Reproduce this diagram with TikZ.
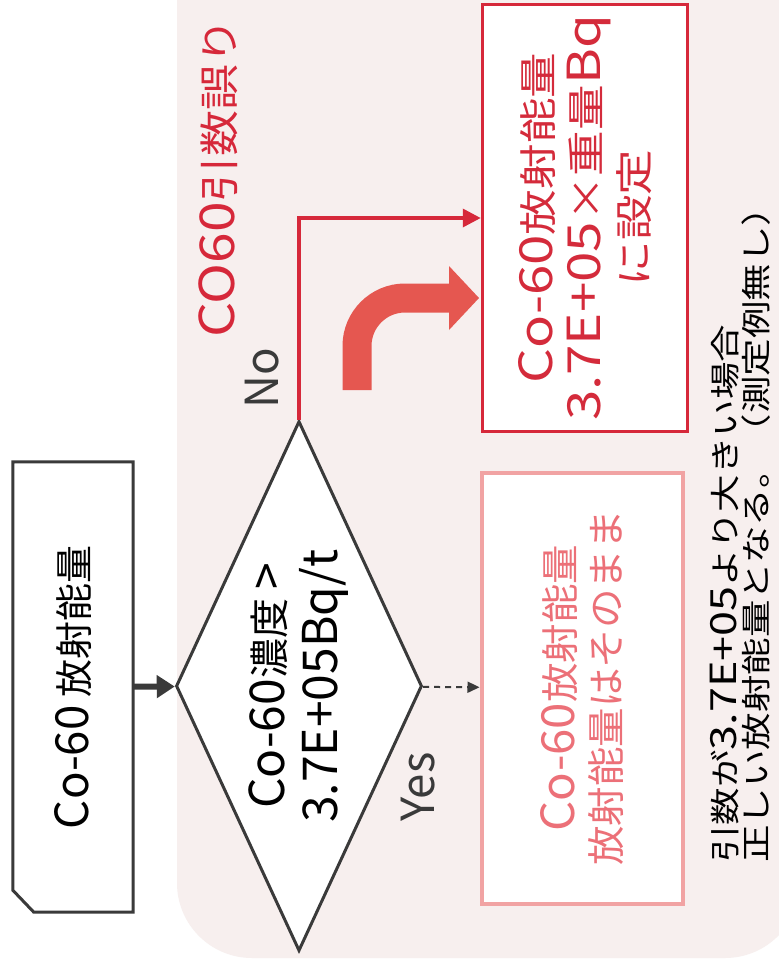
\documentclass[tikz,border=0pt]{standalone}
\usepackage{fontspec}
\setmainfont{Noto Sans CJK JP}
\newfontfamily\la[Scale=1.2]{Noto Sans CJK JP}
\usetikzlibrary{shapes.geometric,arrows.meta}
\definecolor{darkline}{HTML}{3A3A3A}
\definecolor{redc}{HTML}{D6283A}
\definecolor{redtext}{HTML}{D42B3B}
\definecolor{bigred}{HTML}{E55750}
\definecolor{pinkborder}{HTML}{F1A3A3}
\definecolor{pinktext}{HTML}{EC7078}
\definecolor{bgpink}{HTML}{F7EFEE}
\tikzset{
  vtext/.style={rotate=90, inner sep=0pt, align=center},
  boxshape/.style={fill=white, inner sep=0pt},
  darkarrow/.style={draw=darkline, line width=6pt, -{Triangle[length=18pt,width=22pt]}},
  yesarrow/.style={draw=darkline, line width=2pt, dash pattern=on 6pt off 5pt, -{Triangle[length=12pt,width=11pt]}},
  noarrow/.style={draw=redc, line width=3.5pt, -{Triangle[length=18pt,width=18pt]}},
}
\begin{document}
\begin{tikzpicture}[x=1pt,y=-1pt]
\useasboundingbox (0,0) rectangle (779,967);
\fill[white] (0,0) rectangle (779,967);
\fill[bgpink, rounded corners=75pt] (177,-100) -- (177,958) -- (800,958) -- (800,-100) -- cycle;

% source box (bottom-left corner cut)
\node[boxshape, minimum width=120pt, minimum height=450pt] (src) at (73,687) {};
\draw[darkline, line width=3pt, line join=miter] (src.north west) -- (src.north east) -- (src.south east)
  -- ([xshift=21pt]src.south west) -- ([yshift=22pt]src.south west) -- cycle;
\node[vtext, text=black, font=\fontsize{38}{46}\selectfont] (srct) at (src) {{\la Co-60} 放射能量};

% decision
\node[boxshape, diamond, draw=darkline, line width=3pt, minimum width=246pt, minimum height=530pt] (dec) at (299,686) {};
\node[vtext, text=black, font=\fontsize{40}{53}\selectfont] (dect) at (dec) {{\la Co-60}濃度 {\la >}\\{\la 3.7E+05Bq/t}};

% result boxes
\node[boxshape, draw=redc, line width=3.5pt, minimum width=205pt, minimum height=427pt] (set) at (585,218) {};
\node[vtext, xscale=1.2, text=redtext, font=\fontsize{38}{48}\selectfont] (sett) at (set) {{\la Co-60}放射能量\\{\la 3.7E+05}×重量{\la Bq}\\に設定};

\node[boxshape, draw=pinkborder, line width=4pt, minimum width=201pt, minimum height=431pt] (keep) at (582,688) {};
\node[vtext, xscale=1.04, text=pinktext, font=\fontsize{38}{46}\selectfont] (keept) at (keep) {{\la Co-60}放射能量\\放射能量はそのまま};

% labels
\node[vtext, anchor=west, xscale=1.15, text=redc, font=\fontsize{40}{48}\selectfont] (err) at (218,338) {{\la CO60}引数誤り};
\node[vtext, text=darkline, font=\fontsize{38}{46}\selectfont] (no) at (262,378) {{\la No}};
\node[vtext, text=darkline, font=\fontsize{38}{46}\selectfont] (yes) at (418,787) {{\la Yes}};
\node[vtext, align=left, anchor=west, xscale=1.25, text=black, font=\fontsize{30}{31}\selectfont] (note) at (740,863)
  {引数が{\la 3.7E+05}より大きい場合\\正しい放射能量となる。（測定例無し）};

% big decorative arrow
\draw[bigred, line width=29pt, rounded corners=48pt] (357,390) -- (357,298) -- (451,298);
\fill[bigred] (449,266) -- (479,298) -- (449,330) -- cycle;

% connectors
\draw[darkarrow] (src) -- (dec);
\draw[yesarrow] (dec) -- (keep);
\draw[noarrow] (dec.north) |- (set.west);
\end{tikzpicture}
\end{document}
